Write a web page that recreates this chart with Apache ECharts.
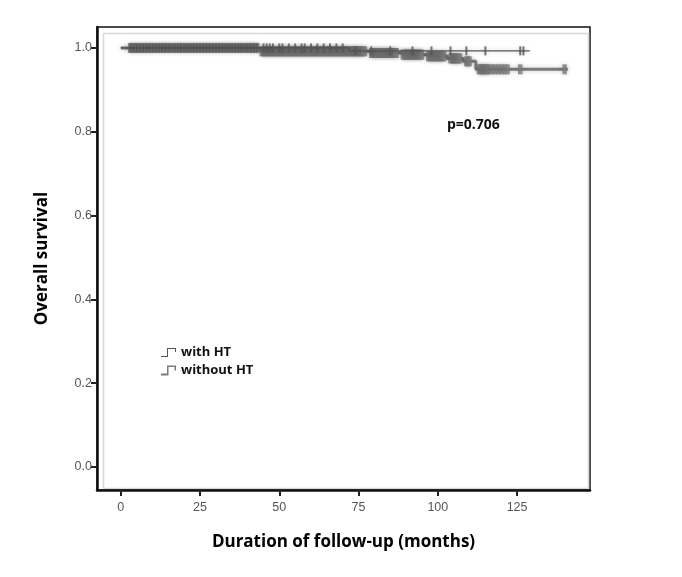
<!DOCTYPE html>
<html><head><meta charset="utf-8">
<script src="https://cdn.jsdelivr.net/npm/echarts@6/dist/echarts.min.js"></script>
<style>html,body{margin:0;padding:0;background:#fff}#c{width:682px;height:577px}</style>
</head><body><div id="c"></div>
<script>
// Kaplan-Meier step points [month, survival]
const withHT_time = [0, 72, 129];
const withHT_surv = [1.0, 0.993, 0.993];
const withoutHT_time = [0, 44, 78, 88, 96, 103, 108, 112, 141];
const withoutHT_surv = [1.0, 0.992, 0.988, 0.984, 0.980, 0.975, 0.968, 0.949, 0.949];
// censoring times (months)
const withHT_censor = [3,4,5,6,7,8,9,10,11,12,13,14,15,16,17,18,19,20,21,22,23,24,25,26,27,28,29,30,31,32,33,34,35,36,37,38,39,40,41,42,43,45,46,47,48,50,51,53,55,57,58,60,62,64,66,68,70,74,79,85,92,98,104,109,115,126,127];
const withoutHT_censor = [3,4,5,6,7,8,9,10,11,12,13,14,15,16,17,18,19,20,21,22,23,24,25,26,27,28,29,30,31,32,33,34,35,36,37,38,39,40,41,42,43,44.5,45,45.5,46,46.5,47,47.5,48,48.5,49,49.5,50,50.5,51,51.5,52,52.5,53,53.5,54,54.5,55,55.5,56,56.5,57,57.5,58,58.5,59,59.5,60,60.5,61,61.5,62,62.5,63,63.5,64,64.5,65,65.5,66,66.5,67,67.5,68,68.5,69,69.5,70,70.5,71,71.5,72,72.5,73,73.5,74,74.5,75,75.5,76,76.5,77,79,79.5,80,80.5,81,81.5,82,82.5,83,83.5,84,84.5,85,85.5,86,86.5,87,89,89.5,90,90.5,91,91.5,92,92.5,93,93.5,94,94.5,95,97,97.5,98,98.5,99,99.5,100,100.5,101,101.5,102,104,104.5,105,105.5,106,106.5,107,109,109.5,110,113,113.5,114,114.5,115,115.5,116,117,118,119,120,121,122,126,140];
const xTicks = [0, 25, 50, 75, 100, 125];
const yTicks = [0, 0.2, 0.4, 0.6, 0.8, 1.0];
const seriesNames = ['with HT', 'without HT'];

function survAt(times, surv, t) {
  let s = surv[0];
  for (let i = 0; i < times.length; i++) { if (times[i] <= t) s = surv[i]; }
  return s;
}
const pairs = (a, b) => a.map((t, i) => [t, b[i]]);
const censorPts = (c, times, surv) => c.map(t => [t, survAt(times, surv, t)]);

const colWith = '#555555', colWithout = '#7a7a7a';
const stepIcon1 = 'path://M0,9H6V1H15V5H14V2H7V10H0Z';
const stepIcon2 = 'path://M0,8H6V0H15V5H13.5V1.5H7.5V10H0Z';
const halo = { shadowBlur: 5, shadowColor: 'rgba(0,0,0,0.22)' };

const chart = echarts.init(document.getElementById('c'));
chart.setOption({
  animation: false,
  grid: { left: 97, right: 92, top: 27, bottom: 87, show: true, borderColor: '#111', borderWidth: 1.5 },
  xAxis: {
    type: 'value', min: -7.5, max: 148,
    name: 'Duration of follow-up (months)', nameLocation: 'middle', nameGap: 44,
    nameTextStyle: { fontFamily: 'Open Sans', fontWeight: 'bold', fontSize: 17, color: '#000' },
    axisLine: { show: true, onZero: false, lineStyle: { color: '#111', width: 2.5 } },
    axisTick: { show: true, length: 6, lineStyle: { color: '#222', width: 2 }, customValues: xTicks },
    axisLabel: { color: '#555', fontSize: 12.5, fontFamily: 'Liberation Sans', margin: 11, customValues: xTicks },
    splitLine: { show: false }
  },
  yAxis: {
    type: 'value', min: -0.055, max: 1.05,
    name: 'Overall survival', nameLocation: 'middle', nameGap: 46,
    nameTextStyle: { fontFamily: 'Open Sans', fontWeight: 'bold', fontSize: 17, color: '#000' },
    axisLine: { show: true, onZero: false, lineStyle: { color: '#111', width: 2.5 } },
    axisTick: { show: true, length: 6, lineStyle: { color: '#222', width: 2 }, customValues: yTicks },
    axisLabel: { color: '#555', fontSize: 12.5, fontFamily: 'Liberation Sans', margin: 5, customValues: yTicks, formatter: v => v.toFixed(1) },
    splitLine: { show: false }
  },
  legend: {
    left: 156, top: 341, orient: 'vertical', itemGap: 5, itemWidth: 15, itemHeight: 10,
    textStyle: { fontFamily: 'Open Sans', fontWeight: 'bold', fontSize: 13, color: '#111' },
    data: [
      { name: seriesNames[0], icon: stepIcon1, itemStyle: { color: colWith } },
      { name: seriesNames[1], icon: stepIcon2, itemStyle: { color: colWithout } }
    ]
  },
  graphic: [
    { type: 'rect', left: 101, top: 31, shape: { width: 485, height: 455 }, style: { fill: 'none', stroke: '#d8d8d8', lineWidth: 1.5 }, silent: true },
    { type: 'text', left: 447, top: 118, style: { text: 'p=0.706', font: 'bold 14px "Open Sans"', fill: '#111' } }
  ],
  series: [
    { name: seriesNames[1], type: 'line', step: 'end', showSymbol: false, data: pairs(withoutHT_time, withoutHT_surv),
      lineStyle: Object.assign({ color: colWithout, width: 3 }, halo), itemStyle: { color: colWithout }, z: 2 },
    { name: seriesNames[1], type: 'scatter', symbol: 'rect', symbolSize: [4.5, 10], data: censorPts(withoutHT_censor, withoutHT_time, withoutHT_surv),
      itemStyle: Object.assign({ color: colWithout }, halo), z: 2 },
    { name: seriesNames[0], type: 'line', step: 'end', showSymbol: false, data: pairs(withHT_time, withHT_surv),
      lineStyle: Object.assign({ color: colWith, width: 1.3 }, halo), itemStyle: { color: colWith }, z: 3 },
    { name: seriesNames[0], type: 'scatter', symbol: 'rect', symbolSize: [2, 9], data: censorPts(withHT_censor, withHT_time, withHT_surv),
      itemStyle: Object.assign({ color: colWith }, halo), z: 3 }
  ]
});
</script></body></html>
